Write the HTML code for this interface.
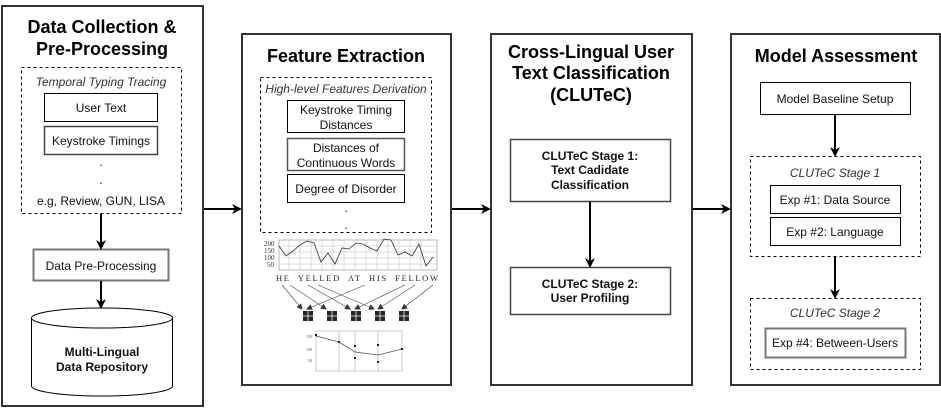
<!DOCTYPE html>
<html><head><meta charset="utf-8"><style>
html,body{margin:0;padding:0;background:#fff;}
svg{display:block;font-family:"Liberation Sans",Arial,sans-serif;}
</style></head><body>
<svg width="941" height="410" viewBox="0 0 941 410" xmlns="http://www.w3.org/2000/svg">
<defs>
<marker id="ah" markerWidth="10" markerHeight="10" refX="8" refY="5" orient="auto" markerUnits="userSpaceOnUse"><path d="M0,0 L10,5 L0,10 L3,5 Z" fill="#000"/></marker>
<marker id="sa" markerWidth="6" markerHeight="6" refX="5" refY="3" orient="auto" markerUnits="userSpaceOnUse"><path d="M0,0 L6,3 L0,6 Z" fill="#333"/></marker>
</defs>
<g fill="none" stroke="#333" stroke-width="2">
<rect x="2" y="6" width="201" height="400"/>
<rect x="242" y="34" width="209" height="351"/>
<rect x="491" y="34" width="201" height="351"/>
<rect x="731" y="34" width="209" height="351"/>
</g>
<g font-weight="bold" font-size="18" text-anchor="middle" fill="#000">
<text x="102" y="33">Data Collection &amp;</text>
<text x="102" y="55">Pre-Processing</text>
<text x="346" y="62">Feature Extraction</text>
<text x="591" y="58">Cross-Lingual User</text>
<text x="591" y="79">Text Classification</text>
<text x="591" y="101">(CLUTeC)</text>
<text x="836" y="62">Model Assessment</text>
</g>
<g fill="none" stroke="#000" stroke-width="1" stroke-dasharray="3,3">
<rect x="21.5" y="67.5" width="160" height="146"/>
<rect x="260.5" y="77.5" width="171" height="155"/>
<rect x="750.5" y="156.5" width="170" height="100"/>
<rect x="750.5" y="298.5" width="170" height="71"/>
</g>
<g fill="#fff" stroke="#000" stroke-width="1">
<rect x="44.5" y="93.5" width="113" height="28"/>
<rect x="44.5" y="126.5" width="113" height="28" stroke="#444" stroke-width="1.5"/>
<rect x="33.5" y="249.5" width="135" height="31" stroke="#777" stroke-width="2"/>
<rect x="287.5" y="100.5" width="117" height="32"/>
<rect x="287.5" y="138.5" width="117" height="32" stroke="#555" stroke-width="1.5"/>
<rect x="287.5" y="174.5" width="117" height="28"/>
<rect x="510.5" y="139.5" width="160" height="62" stroke="#444" stroke-width="1.5"/>
<rect x="510.5" y="267.5" width="160" height="47" stroke="#444" stroke-width="1.5"/>
<rect x="760.5" y="82.5" width="150" height="32"/>
<rect x="770.5" y="185.5" width="130" height="28"/>
<rect x="770.5" y="217.5" width="130" height="28"/>
<rect x="765.5" y="328.5" width="140" height="29" stroke="#777" stroke-width="2"/>
<path d="M31.5,318 A70.5,10 0 0 1 172.5,318 L172.5,386 A70.5,10 0 0 1 31.5,386 Z"/>
<path d="M31.5,318 A70.5,10 0 0 0 172.5,318"/>
</g>
<g font-size="12" text-anchor="middle" fill="#111">
<text x="101" y="86" font-style="italic" fill="#333">Temporal Typing Tracing</text>
<text x="101" y="112">User Text</text>
<text x="101" y="145">Keystroke Timings</text>
<text x="101" y="166">.</text>
<text x="101" y="184">.</text>
<text x="101" y="205">e.g, Review, GUN, LISA</text>
<text x="101" y="270">Data Pre-Processing</text>
<text x="102" y="356" font-weight="bold">Multi-Lingual</text>
<text x="102" y="371" font-weight="bold">Data Repository</text>
<text x="346" y="93" font-style="italic" fill="#333">High-level Features Derivation</text>
<text x="346" y="114">Keystroke Timing</text>
<text x="346" y="129">Distances</text>
<text x="346" y="152">Distances of</text>
<text x="346" y="167">Continuous Words</text>
<text x="346" y="193">Degree of Disorder</text>
<text x="346" y="212">.</text>
<text x="346" y="229">.</text>
<text x="590" y="160" font-weight="bold">CLUTeC Stage 1:</text>
<text x="590" y="174" font-weight="bold">Text Cadidate</text>
<text x="590" y="189" font-weight="bold">Classification</text>
<text x="590" y="288" font-weight="bold">CLUTeC Stage 2:</text>
<text x="590" y="302" font-weight="bold">User Profiling</text>
<text x="835" y="103">Model Baseline Setup</text>
<text x="835" y="177" font-style="italic" fill="#333">CLUTeC Stage 1</text>
<text x="835" y="204">Exp #1: Data Source</text>
<text x="835" y="236">Exp #2: Language</text>
<text x="835" y="317" font-style="italic" fill="#333">CLUTeC Stage 2</text>
<text x="835" y="347">Exp #4: Between-Users</text>
</g>
<g stroke="#000" stroke-width="2" fill="none" marker-end="url(#ah)">
<line x1="101" y1="214" x2="101" y2="248"/>
<line x1="101" y1="281" x2="101" y2="307"/>
<line x1="204" y1="209" x2="240" y2="209"/>
<line x1="452" y1="209" x2="489" y2="209"/>
<line x1="693" y1="209" x2="729" y2="209"/>
<line x1="590" y1="202" x2="590" y2="266"/>
<line x1="835" y1="115" x2="835" y2="155"/>
<line x1="835" y1="257" x2="835" y2="297"/>
</g>
<g stroke="#bbb" stroke-width="0.5" fill="none">
<rect x="279" y="240" width="158" height="30" stroke="#777"/>
<path d="M279,246H437M279,252H437M279,258H437M279,264H437M289,240V270M300,240V270M311,240V270M322,240V270M333,240V270M344,240V270M355,240V270M366,240V270M377,240V270M388,240V270M399,240V270M410,240V270M421,240V270"/>
</g>
<polyline fill="none" stroke="#333" stroke-width="0.8" points="279,246 286,256 293,251 300,245 307,241 314,243 321,262 328,253 335,264 342,248 349,249 356,243 363,244 370,248 377,251 384,239 391,240 398,255 405,252 412,256 419,244 426,266 433,257"/>
<g font-family="Liberation Serif,serif" font-size="7" fill="#333">
<text x="264" y="246">200</text><text x="264" y="253">150</text><text x="264" y="260">100</text><text x="267" y="267">50</text>
</g>
<text x="276" y="281" font-family="Liberation Serif,serif" font-size="8.5" fill="#223" textLength="162" lengthAdjust="spacing" xml:space="preserve">HE  YELLED  AT  HIS  FELLOW</text>
<g stroke="#444" stroke-width="0.6" marker-end="url(#sa)">
<line x1="282" y1="285" x2="302" y2="309"/>
<line x1="290" y1="285" x2="326" y2="309"/>
<line x1="308" y1="285" x2="350" y2="309"/>
<line x1="318" y1="285" x2="374" y2="309"/>
<line x1="365" y1="285" x2="307" y2="309"/>
<line x1="405" y1="285" x2="355" y2="309"/>
<line x1="415" y1="285" x2="378" y2="309"/>
<line x1="433" y1="285" x2="402" y2="309"/>
</g>
<g fill="#222">
<rect x="303" y="311" width="10" height="10"/><rect x="327" y="311" width="10" height="10"/><rect x="351" y="311" width="10" height="10"/><rect x="375" y="311" width="10" height="10"/><rect x="399" y="311" width="10" height="10"/>
</g>
<g stroke="#fff" stroke-width="0.8">
<path d="M303,316H313M308,311V321M327,316H337M332,311V321M351,316H361M356,311V321M375,316H385M380,311V321M399,316H409M404,311V321"/>
</g>
<g fill="none" stroke="#aaa" stroke-width="0.6">
<rect x="316" y="331" width="86" height="40"/>
<path d="M339,331V371M355,331V371M378,331V371"/>
</g>
<polyline fill="none" stroke="#555" stroke-width="0.8" points="316,336 339,342 355,352 378,355 402,349"/>
<g fill="#222"><rect x="315" y="334" width="2" height="2"/><rect x="338" y="341" width="2" height="2"/><rect x="354" y="345" width="2" height="2"/><rect x="354" y="357" width="2" height="2"/><rect x="377" y="344" width="2" height="2"/><rect x="377" y="361" width="2" height="2"/><rect x="401" y="348" width="2" height="2"/></g>
<g font-family="Liberation Serif,serif" font-size="4" fill="#555"><text x="306" y="338">150</text><text x="306" y="351">100</text><text x="308" y="362">50</text></g>
</svg>
</body></html>
